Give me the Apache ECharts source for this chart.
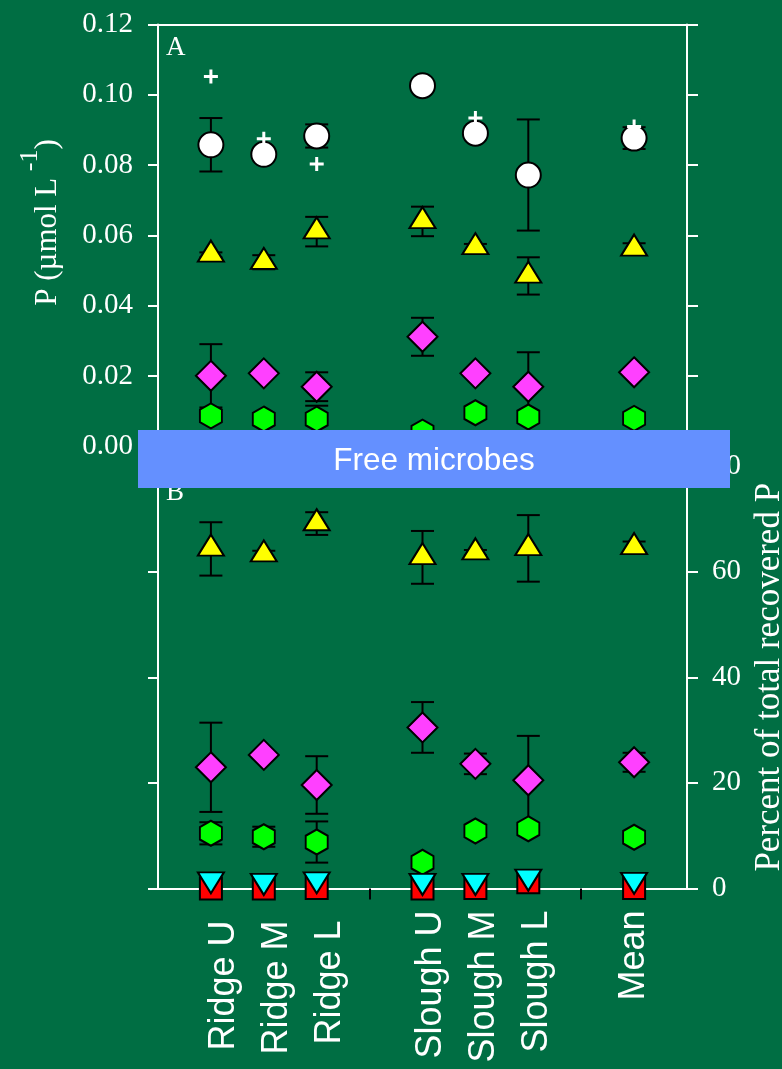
<!DOCTYPE html>
<html><head><meta charset="utf-8">
<script src="https://cdn.jsdelivr.net/npm/echarts@6/dist/echarts.min.js"></script>
<style>html,body{margin:0;padding:0;background:#006E43;} #c{width:782px;height:1069px;}</style>
</head><body><div id="c"></div>
<script>
// ---------- data ----------
const siteGroups = [['Ridge U','Ridge M','Ridge L'],['Slough U','Slough M','Slough L'],['Mean']];
const pTicks = [0, 0.02, 0.04, 0.06, 0.08, 0.10, 0.12];
const pctTicks = [0, 20, 40, 60, 80];
const bannerText = 'Free microbes';

// Panel A: P (µmol L-1)
const aCircle     = [0.0858, 0.0831, 0.0883, 0.1026, 0.0891, 0.0772, 0.0877];
const aCircleErr  = [0.0076, 0, 0.0033, 0, 0, 0.0158, 0.0031];
const aPlus       = [0.1052, 0.0875, 0.0803, 0.1026, 0.0934, 0.0772, 0.0910];
const aTri        = [0.0545, 0.0524, 0.0611, 0.0640, 0.0566, 0.0485, 0.0562];
const aTriErr     = [0.0007, 0.0020, 0.0042, 0.0042, 0.0010, 0.0053, 0.0016];
const aDiamond    = [0.0201, 0.0208, 0.0170, 0.0312, 0.0208, 0.0170, 0.0211];
const aDiamondErr = [0.0090, 0, 0.0041, 0.0054, 0, 0.0098, 0];
const aHex        = [0.0087, 0.0078, 0.0078, 0.0041, 0.0096, 0.0084, 0.0080];
const aHexErr     = [0, 0, 0.0038, 0, 0, 0, 0];
const aSquare     = [0.0003, 0.0003, 0.0003, 0.0003, 0.0003, 0.0004, 0.0003];
const aDown       = [0.0006, 0.0005, 0.0006, 0.0005, 0.0005, 0.0007, 0.0006];

// Panel B: percent of total recovered P
const bTri        = [64.3, 63.2, 69.1, 62.7, 63.6, 64.4, 64.6];
const bTriErr     = [5.05, 0.75, 2.15, 5.0, 0.5, 6.3, 1.1];
const bDiamond    = [22.95, 25.3, 19.6, 30.5, 23.6, 20.5, 23.9];
const bDiamondErr = [8.45, 0, 5.45, 4.8, 1.95, 8.4, 1.8];
const bHex        = [10.45, 9.8, 8.8, 4.96, 10.9, 11.3, 9.7];
const bHexErr     = [2.1, 1.9, 3.9, 0, 0, 0, 0];
const bSquare     = [0.0, 0.0, 0.1, 0.0, 0.1, 1.2, 0.1];
const bDown       = [1.8, 1.5, 1.8, 1.5, 1.5, 2.3, 1.7];

// ---------- build ----------
const sites = siteGroups.flat();
const axisCats = [''];
siteGroups.forEach(g => { axisCats.push(...g, ''); });
const groupOf = {};
siteGroups.forEach((g, gi) => g.forEach(s => { groupOf[s] = gi; }));
const labelStyleNames = ['r', 's', 'm'];

const BG = '#006E43';
const WHITE = '#ffffff';
const SERIF = '"Liberation Serif", "Times New Roman", serif';
const SANS = '"Liberation Sans", Arial, sans-serif';

function renderErr(params, api) {
  const e = api.value(2);
  if (!e) return null;
  const cx = api.value(0), v = api.value(1);
  const p1 = api.coord([cx, v + e]);
  const p2 = api.coord([cx, v - e]);
  const hw = 11.5;
  const st = { stroke: '#000', lineWidth: 2 };
  return { type: 'group', children: [
    { type: 'line', shape: { x1: p1[0], y1: p1[1], x2: p2[0], y2: p2[1] }, style: st },
    { type: 'line', shape: { x1: p1[0] - hw, y1: p1[1], x2: p1[0] + hw, y2: p1[1] }, style: st },
    { type: 'line', shape: { x1: p2[0] - hw, y1: p2[1], x2: p2[0] + hw, y2: p2[1] }, style: st }
  ]};
}
function errSeries(panel, vals, errs) {
  return { type: 'custom', xAxisIndex: panel, yAxisIndex: panel === 0 ? 0 : 2,
    data: sites.map((s, i) => [s, vals[i], errs[i]]), encode: { x: 0, y: 1 },
    renderItem: renderErr, z: 2, silent: true, clip: false };
}
function scatter(panel, name, vals, symbol, size, color, z, extra) {
  return Object.assign({ type: 'scatter', name, xAxisIndex: panel, yAxisIndex: panel === 0 ? 0 : 2,
    data: sites.map((s, i) => [s, vals[i]]), symbol, symbolSize: size,
    itemStyle: { color, borderColor: '#000', borderWidth: 2, opacity: 1 },
    z, clip: false, silent: true, emphasis: { disabled: true } }, extra || {});
}
const HEX = 'path://M12,0L24,6.75L24,20.25L12,27L0,20.25L0,6.75Z';
const DOWN = 'path://M0,0L26,0L13,21Z';
const PLUS = 'path://M5.5,0H8.5V5.5H14V8.5H8.5V14H5.5V8.5H0V5.5H5.5Z';

const series = [
  errSeries(0, aCircle, aCircleErr), errSeries(0, aTri, aTriErr), errSeries(0, aDiamond, aDiamondErr), errSeries(0, aHex, aHexErr),
  errSeries(1, bTri, bTriErr), errSeries(1, bDiamond, bDiamondErr), errSeries(1, bHex, bHexErr),
  scatter(0, 'circle', aCircle, 'circle', 25, '#ffffff', 3),
  scatter(0, 'plus', aPlus, PLUS, 14, '#ffffff', 4, { itemStyle: { color: '#ffffff', borderWidth: 0, opacity: 1 } }),
  scatter(0, 'triangle', aTri, 'triangle', [26, 21], '#ffff00', 5, { symbolOffset: [0, -3.8] }),
  scatter(0, 'diamond', aDiamond, 'diamond', [30, 30], '#ff40ff', 6),
  scatter(0, 'hexagon', aHex, HEX, [22, 25], '#00ff00', 7),
  scatter(0, 'square', aSquare, 'rect', [22, 22], '#ff0000', 8),
  scatter(0, 'down', aDown, DOWN, [26, 21], '#00ffff', 9, { symbolOffset: [0, 3.8] }),
  scatter(1, 'triangle', bTri, 'triangle', [26, 21], '#ffff00', 5, { symbolOffset: [0, -3.8] }),
  scatter(1, 'diamond', bDiamond, 'diamond', [30, 30], '#ff40ff', 6),
  scatter(1, 'hexagon', bHex, HEX, [22, 25], '#00ff00', 7),
  scatter(1, 'square', bSquare, 'rect', [22, 22], '#ff0000', 8),
  scatter(1, 'down', bDown, DOWN, [26, 21], '#00ffff', 9, { symbolOffset: [0, 3.8] })
];

const axisLine = { show: true, onZero: false, lineStyle: { color: WHITE, width: 2 } };
const yTick = { show: true, inside: false, length: 10, lineStyle: { color: WHITE, width: 2 } };
const tickLabel = { color: WHITE, fontFamily: SERIF, fontSize: 29, margin: 25 };
const xLab = { color: WHITE, fontFamily: SANS, fontSize: 36 };

const option = {
  backgroundColor: BG,
  animation: false,
  grid: [
    { left: 158, right: 95, top: 24.5, height: 422, containLabel: false, outerBoundsMode: 'none' },
    { left: 158, right: 95, top: 466, height: 422.5, containLabel: false, outerBoundsMode: 'none' }
  ],
  xAxis: [
    { type: 'category', gridIndex: 0, data: axisCats, boundaryGap: false, position: 'top',
      axisLine, axisTick: { show: false }, axisLabel: { show: false }, splitLine: { show: false } },
    { type: 'category', gridIndex: 1, data: axisCats, boundaryGap: false, position: 'bottom',
      axisLine,
      axisTick: { show: true, inside: false, length: 11, lineStyle: { color: '#000', width: 2 },
        interval: (i) => i > 0 && i < axisCats.length - 1 && axisCats[i] === '' },
      axisLabel: { interval: 0, rotate: 90, margin: 22, color: WHITE, fontFamily: SANS, fontSize: 36,
        formatter: (v) => v === '' ? '' : '{' + labelStyleNames[groupOf[v]] + '|' + v + '}',
        rich: { r: Object.assign({ padding: [26, 10, 0, 0] }, xLab),
                s: Object.assign({ padding: [18, 0, 0, 0] }, xLab),
                m: Object.assign({ padding: [0, 0, 0, 0] }, xLab) } },
      splitLine: { show: false } }
  ],
  yAxis: [
    { type: 'value', gridIndex: 0, position: 'left', min: pTicks[0], max: pTicks[pTicks.length - 1],
      interval: pTicks[1] - pTicks[0], axisLine, axisTick: yTick, splitLine: { show: false },
      axisLabel: Object.assign({}, tickLabel, { formatter: (v) => v.toFixed(2) }),
      name: '{a|P (µmol L}{s| -1}{a|)}', nameLocation: 'middle', nameRotate: 90, nameGap: 95,
      nameTextStyle: { color: WHITE, fontFamily: SERIF, fontSize: 31, padding: [0, 0, 0, 26],
        rich: { a: { color: WHITE, fontFamily: SERIF, fontSize: 31, lineHeight: 46, verticalAlign: 'bottom' },
                s: { color: WHITE, fontFamily: SERIF, fontSize: 26, verticalAlign: 'top' } } } },
    { type: 'value', gridIndex: 0, position: 'right', min: pTicks[0], max: pTicks[pTicks.length - 1],
      interval: pTicks[1] - pTicks[0], axisLine, axisTick: Object.assign({}, yTick, { length: 11 }),
      splitLine: { show: false }, axisLabel: { show: false } },
    { type: 'value', gridIndex: 1, position: 'left', min: pctTicks[0], max: pctTicks[pctTicks.length - 1],
      interval: pctTicks[1] - pctTicks[0], axisLine, axisTick: yTick, splitLine: { show: false },
      axisLabel: { show: false } },
    { type: 'value', gridIndex: 1, position: 'right', min: pctTicks[0], max: pctTicks[pctTicks.length - 1],
      interval: pctTicks[1] - pctTicks[0], axisLine, axisTick: Object.assign({}, yTick, { length: 11 }),
      splitLine: { show: false }, axisLabel: tickLabel,
      name: 'Percent of total recovered P', nameLocation: 'middle', nameRotate: 90, nameGap: 57,
      nameTextStyle: { color: WHITE, fontFamily: SERIF, fontSize: 35 } }
  ],
  graphic: [
    { type: 'text', x: 166, y: 48, z: 50,
      style: { text: 'A', fill: WHITE, fontFamily: SERIF, fontSize: 27, align: 'left', verticalAlign: 'middle', textAlign: 'left', textVerticalAlign: 'middle' } },
    { type: 'text', x: 166, y: 493, z: 50,
      style: { text: 'B', fill: WHITE, fontFamily: SERIF, fontSize: 27, align: 'left', verticalAlign: 'middle', textAlign: 'left', textVerticalAlign: 'middle' } },
    { type: 'rect', x: 138, y: 430, z: 100, shape: { x: 0, y: 0, width: 592, height: 58 }, style: { fill: '#6490FF' } },
    { type: 'text', x: 434, y: 461, z: 101,
      style: { text: bannerText, fill: WHITE, fontFamily: SANS, fontSize: 31.5, align: 'center', verticalAlign: 'middle', textAlign: 'center', textVerticalAlign: 'middle' } }
  ],
  series
};
const chart = echarts.init(document.getElementById('c'), null, { renderer: 'canvas', width: 782, height: 1069 });
chart.setOption(option);
</script>
</body></html>
